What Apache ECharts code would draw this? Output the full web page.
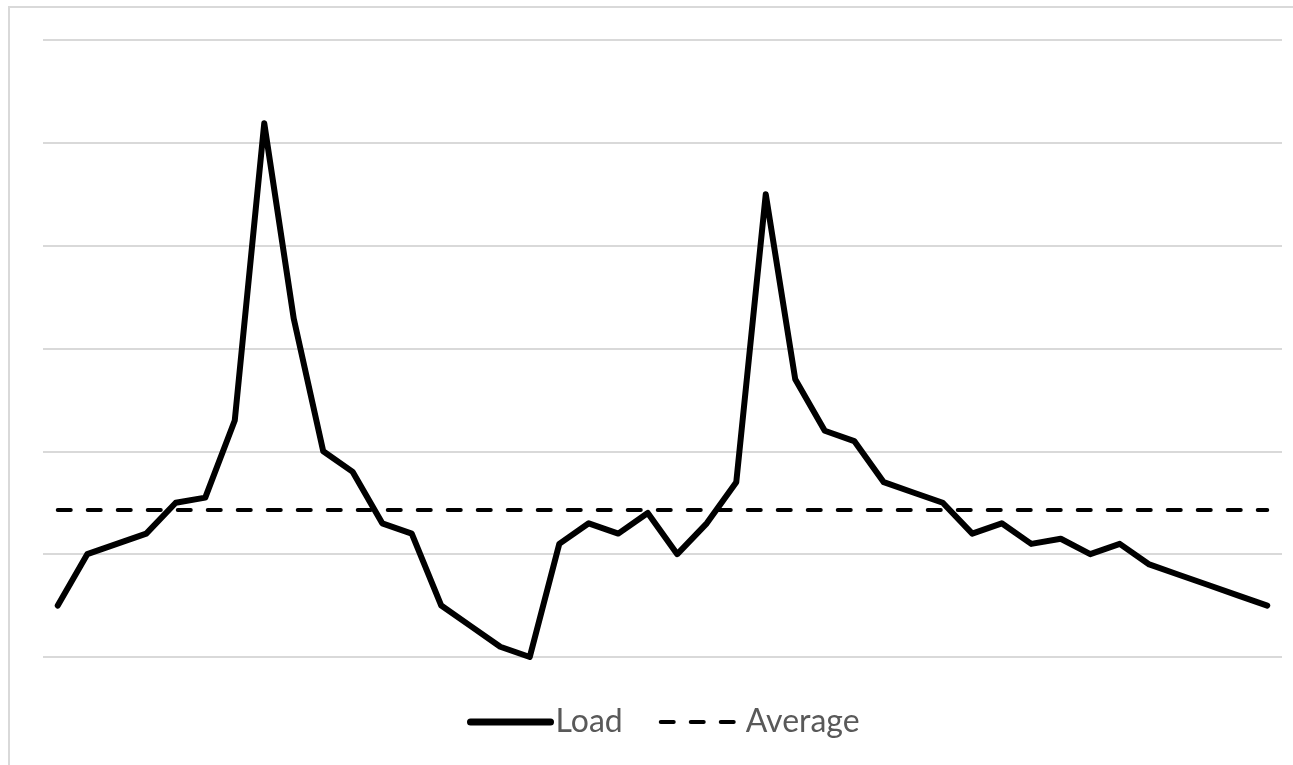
<!DOCTYPE html>
<html>
<head>
<meta charset="utf-8">
<script src="https://cdn.jsdelivr.net/npm/echarts@6/dist/echarts.min.js"></script>
<style>
html,body{margin:0;padding:0;background:#fff;}
#chart{width:1293px;height:765px;}
</style>
</head>
<body>
<div id="chart"></div>
<script>
const categories = ['1','2','3','4','5','6','7','8','9','10','11','12','13','14','15','16','17','18','19','20','21','22','23','24','25','26','27','28','29','30','31','32','33','34','35','36','37','38','39','40','41','42'];
const loadValues = [0.5,1.0,1.1,1.2,1.5,1.55,2.3,5.19,3.29,2.0,1.8,1.3,1.2,0.5,0.3,0.1,0.0,1.1,1.3,1.2,1.4,1.0,1.3,1.7,4.5,2.7,2.2,2.1,1.7,1.6,1.5,1.2,1.3,1.1,1.15,1.0,1.1,0.9,0.8,0.7,0.6,0.5];
const averageValues = [1.43,1.43,1.43,1.43,1.43,1.43,1.43,1.43,1.43,1.43,1.43,1.43,1.43,1.43,1.43,1.43,1.43,1.43,1.43,1.43,1.43,1.43,1.43,1.43,1.43,1.43,1.43,1.43,1.43,1.43,1.43,1.43,1.43,1.43,1.43,1.43,1.43,1.43,1.43,1.43,1.43,1.43];
const seriesNames = ['Load','Average'];

const chart = echarts.init(document.getElementById('chart'), null, {renderer:'canvas'});
chart.setOption({
  animation:false,
  backgroundColor:'#ffffff',
  graphic:[{
    type:'rect', silent:true,
    shape:{x:9, y:7, width:1400, height:1000},
    style:{fill:'none', stroke:'#d9d9d9', lineWidth:2}
  }],
  grid:{left:43, right:11, top:40, bottom:108, containLabel:false},
  legend:{
    left:462, top:701,
    itemWidth:80, itemHeight:34, itemGap:36,
    textStyle:{fontFamily:'Lato', fontSize:32, color:'#595959'},
    data:[
      {name:seriesNames[0], lineStyle:{width:7, color:'#000', cap:'round'}, itemStyle:{color:'rgba(0,0,0,0)', borderWidth:0}},
      {name:seriesNames[1], lineStyle:{width:4, color:'#000', type:[13,17], cap:'round'}, itemStyle:{color:'rgba(0,0,0,0)', borderWidth:0}}
    ]
  },
  xAxis:{
    type:'category', data:categories, boundaryGap:true,
    axisLine:{show:false}, axisTick:{show:false}, axisLabel:{show:false}, splitLine:{show:false}
  },
  yAxis:{
    type:'value', min:0, max:6, interval:1,
    axisLine:{show:false}, axisTick:{show:false}, axisLabel:{show:false},
    splitLine:{show:true, lineStyle:{color:'#d9d9d9', width:2}}
  },
  series:[
    {name:seriesNames[0], type:'line', data:loadValues, symbol:'none', z:3,
     lineStyle:{color:'#000', width:6, cap:'round', join:'round'}, itemStyle:{color:'#000'}},
    {name:seriesNames[1], type:'line', data:averageValues, symbol:'none', z:2,
     lineStyle:{color:'#000', width:4, type:[13,17], cap:'round'}, itemStyle:{color:'#000'}}
  ]
});
</script>
</body>
</html>
